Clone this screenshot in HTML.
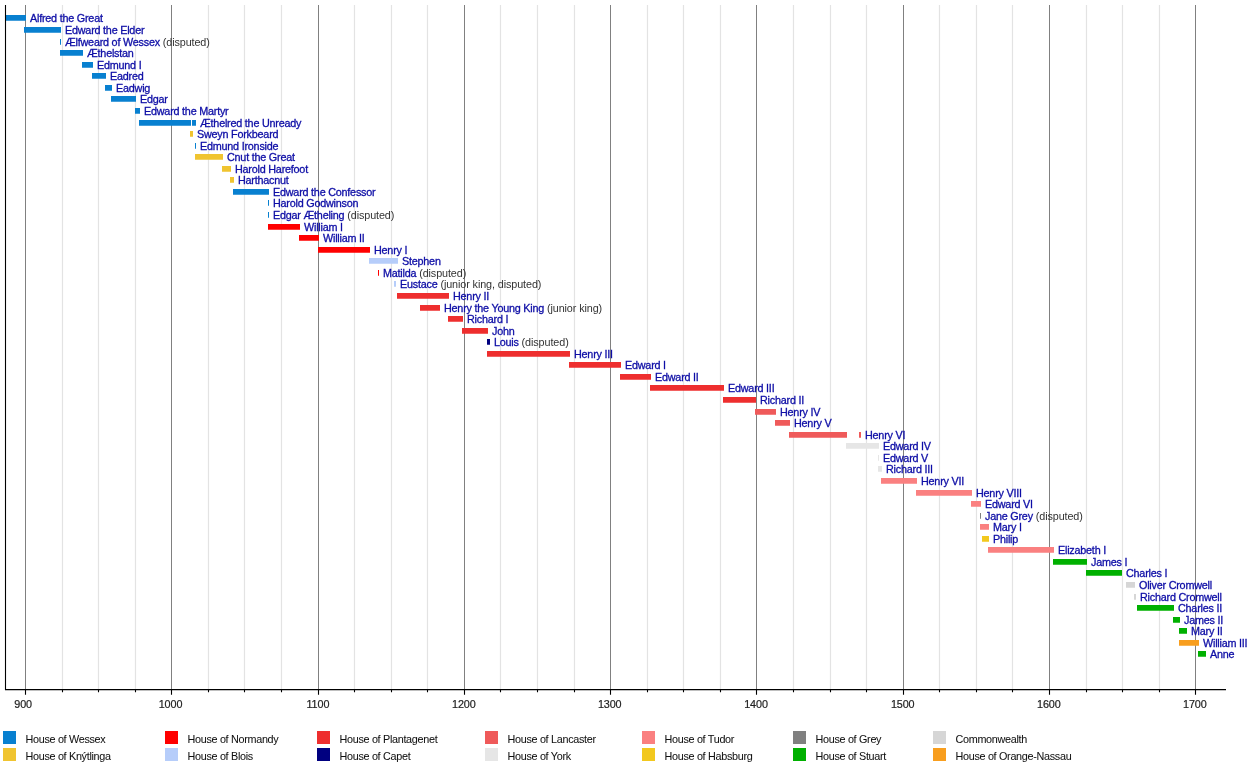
<!DOCTYPE html><html><head><meta charset="utf-8"><style>html,body{margin:0;padding:0;background:#fff;width:1250px;height:764px;overflow:hidden}svg{display:block;will-change:transform}text{font-family:"Liberation Sans",sans-serif;font-size:10.8px;letter-spacing:-0.22px}.l{fill:#0e0ea6;stroke:#0e0ea6;stroke-width:0.3px}.s{fill:#333;stroke:none;letter-spacing:-0.1px}.a{fill:#222;stroke:#222;stroke-width:0.2px;letter-spacing:-0.1px}.g{fill:#111;stroke:#111;stroke-width:0.05px;letter-spacing:-0.3px}</style></head><body>
<svg width="1250" height="764" viewBox="0 0 1250 764">
<rect width="1250" height="764" fill="#fff"/>
<path d="M62.50 5V689.5 M98.50 5V689.5 M135.50 5V689.5 M208.50 5V689.5 M244.50 5V689.5 M281.50 5V689.5 M354.50 5V689.5 M391.50 5V689.5 M427.50 5V689.5 M500.50 5V689.5 M537.50 5V689.5 M574.50 5V689.5 M647.50 5V689.5 M683.50 5V689.5 M720.50 5V689.5 M793.50 5V689.5 M830.50 5V689.5 M866.50 5V689.5 M939.50 5V689.5 M976.50 5V689.5 M1012.50 5V689.5 M1086.50 5V689.5 M1122.50 5V689.5 M1159.50 5V689.5" stroke="#e3e3e3" stroke-width="1.2" fill="none"/>
<path d="M25.50 5V689.5 M171.50 5V689.5 M318.50 5V689.5 M464.50 5V689.5 M610.50 5V689.5 M756.50 5V689.5 M903.50 5V689.5 M1049.50 5V689.5 M1195.50 5V689.5" stroke="#808080" stroke-width="1" fill="none"/>
<rect x="5" y="15.00" width="21" height="5.75" fill="#0880d0"/>
<text x="30.00" y="21.80" class="l">Alfred the Great</text>
<rect x="24" y="27.00" width="37" height="5.75" fill="#0880d0"/>
<text x="65.00" y="33.80" class="l">Edward the Elder</text>
<rect x="60" y="39.00" width="1" height="5.75" fill="#0880d0"/>
<text x="65.00" y="45.80" class="l">Ælfweard of Wessex<tspan class="s"> (disputed)</tspan></text>
<rect x="60" y="50.00" width="23" height="5.75" fill="#0880d0"/>
<text x="87.00" y="56.80" class="l">Æthelstan</text>
<rect x="82" y="62.00" width="11" height="5.75" fill="#0880d0"/>
<text x="97.00" y="68.80" class="l">Edmund I</text>
<rect x="92" y="73.00" width="14" height="5.75" fill="#0880d0"/>
<text x="110.00" y="79.80" class="l">Eadred</text>
<rect x="105" y="85.00" width="7" height="5.75" fill="#0880d0"/>
<text x="116.00" y="91.80" class="l">Eadwig</text>
<rect x="111" y="96.00" width="25" height="5.75" fill="#0880d0"/>
<text x="140.00" y="102.80" class="l">Edgar</text>
<rect x="135" y="108.00" width="5" height="5.75" fill="#0880d0"/>
<text x="144.00" y="114.80" class="l">Edward the Martyr</text>
<rect x="139" y="120.00" width="52" height="5.75" fill="#0880d0"/>
<rect x="192" y="120.00" width="4" height="5.75" fill="#0880d0"/>
<text x="200.00" y="126.80" class="l">Æthelred the Unready</text>
<rect x="190" y="131.00" width="3" height="5.75" fill="#f0c430"/>
<text x="197.00" y="137.80" class="l">Sweyn Forkbeard</text>
<rect x="195" y="143.00" width="1" height="5.75" fill="#0880d0"/>
<text x="200.00" y="149.80" class="l">Edmund Ironside</text>
<rect x="195" y="154.00" width="28" height="5.75" fill="#f0c430"/>
<text x="227.00" y="160.80" class="l">Cnut the Great</text>
<rect x="222" y="166.00" width="9" height="5.75" fill="#f0c430"/>
<text x="235.00" y="172.80" class="l">Harold Harefoot</text>
<rect x="230" y="177.00" width="4" height="5.75" fill="#f0c430"/>
<text x="238.00" y="183.80" class="l">Harthacnut</text>
<rect x="233" y="189.00" width="36" height="5.75" fill="#0880d0"/>
<text x="273.00" y="195.80" class="l">Edward the Confessor</text>
<rect x="268" y="200.00" width="1" height="5.75" fill="#0880d0"/>
<text x="273.00" y="206.80" class="l">Harold Godwinson</text>
<rect x="268" y="212.00" width="1" height="5.75" fill="#0880d0"/>
<text x="273.00" y="218.80" class="l">Edgar Ætheling<tspan class="s"> (disputed)</tspan></text>
<rect x="268" y="224.00" width="32" height="5.75" fill="#ff0000"/>
<text x="304.00" y="230.80" class="l">William I</text>
<rect x="299" y="235.00" width="20" height="5.75" fill="#ff0000"/>
<text x="323.00" y="241.80" class="l">William II</text>
<rect x="318" y="247.00" width="52" height="5.75" fill="#ff0000"/>
<text x="374.00" y="253.80" class="l">Henry I</text>
<rect x="369" y="258.00" width="29" height="5.75" fill="#b6cdfa"/>
<text x="402.00" y="264.80" class="l">Stephen</text>
<rect x="378" y="270.00" width="1" height="5.75" fill="#ff0000"/>
<text x="383.00" y="276.80" class="l">Matilda<tspan class="s"> (disputed)</tspan></text>
<rect x="394" y="281.00" width="2" height="5.75" fill="#b6cdfa"/>
<text x="400.00" y="287.80" class="l">Eustace<tspan class="s"> (junior king, disputed)</tspan></text>
<rect x="397" y="293.00" width="52" height="5.75" fill="#ee2e2e"/>
<text x="453.00" y="299.80" class="l">Henry II</text>
<rect x="420" y="305.00" width="20" height="5.75" fill="#ee2e2e"/>
<text x="444.00" y="311.80" class="l">Henry the Young King<tspan class="s"> (junior king)</tspan></text>
<rect x="448" y="316.00" width="15" height="5.75" fill="#ee2e2e"/>
<text x="467.00" y="322.80" class="l">Richard I</text>
<rect x="462" y="328.00" width="26" height="5.75" fill="#ee2e2e"/>
<text x="492.00" y="334.80" class="l">John</text>
<rect x="487" y="339.00" width="3" height="5.75" fill="#000080"/>
<text x="494.00" y="345.80" class="l">Louis<tspan class="s"> (disputed)</tspan></text>
<rect x="487" y="351.00" width="83" height="5.75" fill="#ee2e2e"/>
<text x="574.00" y="357.80" class="l">Henry III</text>
<rect x="569" y="362.00" width="52" height="5.75" fill="#ee2e2e"/>
<text x="625.00" y="368.80" class="l">Edward I</text>
<rect x="620" y="374.00" width="31" height="5.75" fill="#ee2e2e"/>
<text x="655.00" y="380.80" class="l">Edward II</text>
<rect x="650" y="385.00" width="74" height="5.75" fill="#ee2e2e"/>
<text x="728.00" y="391.80" class="l">Edward III</text>
<rect x="723" y="397.00" width="33" height="5.75" fill="#ee2e2e"/>
<text x="760.00" y="403.80" class="l">Richard II</text>
<rect x="755" y="409.00" width="21" height="5.75" fill="#ef5a5a"/>
<text x="780.00" y="415.80" class="l">Henry IV</text>
<rect x="775" y="420.00" width="15" height="5.75" fill="#ef5a5a"/>
<text x="794.00" y="426.80" class="l">Henry V</text>
<rect x="789" y="432.00" width="58" height="5.75" fill="#ef5a5a"/>
<rect x="859" y="432.00" width="2" height="5.75" fill="#ef5a5a"/>
<text x="865.00" y="438.80" class="l">Henry VI</text>
<rect x="846" y="443.00" width="14" height="5.75" fill="#e6e6e6"/>
<rect x="860" y="443.00" width="19" height="5.75" fill="#e6e6e6"/>
<text x="883.00" y="449.80" class="l">Edward IV</text>
<rect x="878" y="455.00" width="1" height="5.75" fill="#e6e6e6"/>
<text x="883.00" y="461.80" class="l">Edward V</text>
<rect x="878" y="466.00" width="4" height="5.75" fill="#e6e6e6"/>
<text x="886.00" y="472.80" class="l">Richard III</text>
<rect x="881" y="478.00" width="36" height="5.75" fill="#fa8080"/>
<text x="921.00" y="484.80" class="l">Henry VII</text>
<rect x="916" y="490.00" width="56" height="5.75" fill="#fa8080"/>
<text x="976.00" y="496.80" class="l">Henry VIII</text>
<rect x="971" y="501.00" width="10" height="5.75" fill="#fa8080"/>
<text x="985.00" y="507.80" class="l">Edward VI</text>
<rect x="980" y="513.00" width="1" height="5.75" fill="#808080"/>
<text x="985.00" y="519.80" class="l">Jane Grey<tspan class="s"> (disputed)</tspan></text>
<rect x="980" y="524.00" width="9" height="5.75" fill="#fa8080"/>
<text x="993.00" y="530.80" class="l">Mary I</text>
<rect x="982" y="536.00" width="7" height="5.75" fill="#f2c81e"/>
<text x="993.00" y="542.80" class="l">Philip</text>
<rect x="988" y="547.00" width="66" height="5.75" fill="#fa8080"/>
<text x="1058.00" y="553.80" class="l">Elizabeth I</text>
<rect x="1053" y="559.00" width="34" height="5.75" fill="#00b000"/>
<text x="1091.00" y="565.80" class="l">James I</text>
<rect x="1086" y="570.00" width="36" height="5.75" fill="#00b000"/>
<text x="1126.00" y="576.80" class="l">Charles I</text>
<rect x="1126" y="582.00" width="9" height="5.75" fill="#d6d6d6"/>
<text x="1139.00" y="588.80" class="l">Oliver Cromwell</text>
<rect x="1134" y="594.00" width="2" height="5.75" fill="#d6d6d6"/>
<text x="1140.00" y="600.80" class="l">Richard Cromwell</text>
<rect x="1137" y="605.00" width="37" height="5.75" fill="#00b000"/>
<text x="1178.00" y="611.80" class="l">Charles II</text>
<rect x="1173" y="617.00" width="7" height="5.75" fill="#00b000"/>
<text x="1184.00" y="623.80" class="l">James II</text>
<rect x="1179" y="628.00" width="8" height="5.75" fill="#00b000"/>
<text x="1191.00" y="634.80" class="l">Mary II</text>
<rect x="1179" y="640.00" width="20" height="5.75" fill="#f89e1e"/>
<text x="1203.00" y="646.80" class="l">William III</text>
<rect x="1198" y="651.00" width="8" height="5.75" fill="#00b000"/>
<text x="1210.00" y="657.80" class="l">Anne</text>
<path d="M5.5 5V690.0" stroke="#000" stroke-width="1.1" fill="none"/>
<path d="M5 689.5H1226" stroke="#000" stroke-width="1.25" fill="none"/>
<path d="M25.50 689.5V694.7 M62.50 689.5V692.3 M98.50 689.5V692.3 M135.50 689.5V692.3 M171.50 689.5V694.7 M208.50 689.5V692.3 M244.50 689.5V692.3 M281.50 689.5V692.3 M318.50 689.5V694.7 M354.50 689.5V692.3 M391.50 689.5V692.3 M427.50 689.5V692.3 M464.50 689.5V694.7 M500.50 689.5V692.3 M537.50 689.5V692.3 M574.50 689.5V692.3 M610.50 689.5V694.7 M647.50 689.5V692.3 M683.50 689.5V692.3 M720.50 689.5V692.3 M756.50 689.5V694.7 M793.50 689.5V692.3 M830.50 689.5V692.3 M866.50 689.5V692.3 M903.50 689.5V694.7 M939.50 689.5V692.3 M976.50 689.5V692.3 M1012.50 689.5V692.3 M1049.50 689.5V694.7 M1086.50 689.5V692.3 M1122.50 689.5V692.3 M1159.50 689.5V692.3 M1195.50 689.5V694.7" stroke="#000" stroke-width="1.1" fill="none"/>
<text x="23.10" y="707.7" class="a" text-anchor="middle">900</text>
<text x="170.50" y="707.7" class="a" text-anchor="middle">1000</text>
<text x="317.90" y="707.7" class="a" text-anchor="middle">1100</text>
<text x="463.80" y="707.7" class="a" text-anchor="middle">1200</text>
<text x="609.70" y="707.7" class="a" text-anchor="middle">1300</text>
<text x="756.00" y="707.7" class="a" text-anchor="middle">1400</text>
<text x="902.70" y="707.7" class="a" text-anchor="middle">1500</text>
<text x="1048.80" y="707.7" class="a" text-anchor="middle">1600</text>
<text x="1194.80" y="707.7" class="a" text-anchor="middle">1700</text>
<rect x="3" y="731" width="13" height="13" fill="#0880d0"/>
<text x="25.5" y="743.0" class="g">House of Wessex</text>
<rect x="3" y="748" width="13" height="13" fill="#f0c430"/>
<text x="25.5" y="760.0" class="g">House of Knýtlinga</text>
<rect x="165" y="731" width="13" height="13" fill="#ff0000"/>
<text x="187.5" y="743.0" class="g">House of Normandy</text>
<rect x="165" y="748" width="13" height="13" fill="#b6cdfa"/>
<text x="187.5" y="760.0" class="g">House of Blois</text>
<rect x="317" y="731" width="13" height="13" fill="#ee2e2e"/>
<text x="339.5" y="743.0" class="g">House of Plantagenet</text>
<rect x="317" y="748" width="13" height="13" fill="#000080"/>
<text x="339.5" y="760.0" class="g">House of Capet</text>
<rect x="485" y="731" width="13" height="13" fill="#ef5a5a"/>
<text x="507.5" y="743.0" class="g">House of Lancaster</text>
<rect x="485" y="748" width="13" height="13" fill="#e6e6e6"/>
<text x="507.5" y="760.0" class="g">House of York</text>
<rect x="642" y="731" width="13" height="13" fill="#fa8080"/>
<text x="664.5" y="743.0" class="g">House of Tudor</text>
<rect x="642" y="748" width="13" height="13" fill="#f2c81e"/>
<text x="664.5" y="760.0" class="g">House of Habsburg</text>
<rect x="793" y="731" width="13" height="13" fill="#808080"/>
<text x="815.5" y="743.0" class="g">House of Grey</text>
<rect x="793" y="748" width="13" height="13" fill="#00b000"/>
<text x="815.5" y="760.0" class="g">House of Stuart</text>
<rect x="933" y="731" width="13" height="13" fill="#d6d6d6"/>
<text x="955.5" y="743.0" class="g">Commonwealth</text>
<rect x="933" y="748" width="13" height="13" fill="#f89e1e"/>
<text x="955.5" y="760.0" class="g">House of Orange-Nassau</text>
</svg></body></html>
